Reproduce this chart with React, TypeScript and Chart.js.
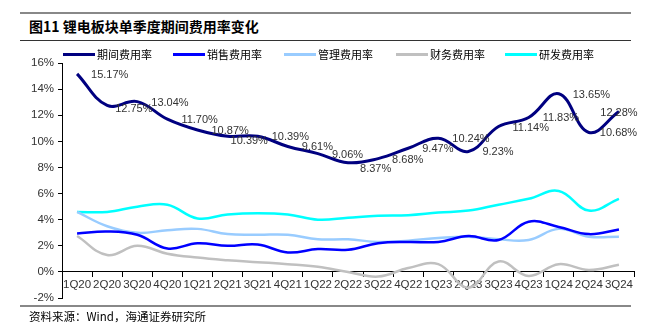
import React, { useEffect, useRef } from "react";
import { Chart, registerables } from "chart.js";

Chart.register(...registerables);

const categories = ["1Q20","2Q20","3Q20","4Q20","1Q21","2Q21","3Q21","4Q21","1Q22","2Q22","3Q22","4Q22","1Q23","2Q23","3Q23","4Q23","1Q24","2Q24","3Q24"];
const totalRate = [15.17,12.75,13.04,11.70,10.87,10.39,10.39,9.61,9.06,8.37,8.68,9.47,10.24,9.23,11.14,11.83,13.65,10.68,12.28];
const salesRate = [2.95,3.1,2.85,1.8,2.2,2.0,2.1,1.5,1.75,1.7,2.2,2.3,2.3,2.75,2.45,3.85,3.45,2.9,3.25];
const adminRate = [4.6,3.5,3.0,3.2,3.3,2.9,2.85,2.85,2.5,2.5,2.3,2.4,2.6,2.7,2.5,2.45,3.3,2.7,2.7];
const financeRate = [2.75,1.3,2.0,1.4,1.1,0.9,0.75,0.6,0.4,0.0,-0.35,0.3,0.6,-1.2,0.8,-0.3,0.6,0.15,0.55];
const rdRate = [4.6,4.6,5.0,5.15,4.1,4.4,4.5,4.4,4.0,4.15,4.3,4.35,4.55,4.7,5.15,5.6,6.2,4.7,5.6];
const seriesNames = ["期间费用率","销售费用率","管理费用率","财务费用率","研发费用率"];
const seriesColors = ["#000080", "#0000FF", "#99CCFF", "#C0C0C0", "#00FFFF"];
const yTicks = [-2,0,2,4,6,8,10,12,14,16];

const FONT = "Arial, 'Liberation Sans', sans-serif";
const CJK = "'Noto Sans CJK SC', sans-serif";

const labelPlugin = {
  id: "totalLabels",
  afterDatasetsDraw(chart: any) {
    const meta = chart.getDatasetMeta(0);
    const ctx = chart.ctx;
    ctx.save();
    ctx.font = `11px ${FONT}`;
    ctx.fillStyle = "#333333";
    ctx.textBaseline = "middle";
    const last = meta.data.length - 1;
    meta.data.forEach((pt: any, i: number) => {
      const text = totalRate[i].toFixed(2) + "%";
      let dx = 14, dy = 1, align = "left";
      if (i === 1) { dx = 8; dy = 4; }
      if (i === 5) { dx = 3; dy = 5; }
      if (i === 9) { dx = 12; dy = 6; }
      if (i === 17) { dx = 11; dy = 0; }
      if (i === last) { dx = 0; dy = 1; align = "center"; }
      ctx.textAlign = align;
      ctx.fillText(text, pt.x + dx, pt.y + dy);
    });
    ctx.restore();
  },
};

const legendX = [63, 173, 284, 396, 505];

export default function App() {
  const ref = useRef<HTMLCanvasElement>(null);
  useEffect(() => {
    document.body.style.margin = "0";
    const values = [totalRate, salesRate, adminRate, financeRate, rdRate];
    const chart = new Chart(ref.current!, {
      type: "line",
      data: {
        labels: categories,
        datasets: values.map((v, i) => ({
          label: seriesNames[i],
          data: v,
          borderColor: seriesColors[i],
          backgroundColor: seriesColors[i],
          borderWidth: i === 0 ? 3 : 2.5,
          pointRadius: 0,
          tension: 0.4,
          fill: false,
        })),
      },
      options: {
        animation: false,
        responsive: false,
        layout: { padding: { left: 27, right: 20, top: 21, bottom: 0 } },
        plugins: {
          legend: { display: false },
          tooltip: { enabled: false },
        },
        scales: {
          x: {
            type: "category",
            position: { y: 0 },
            offset: true,
            grid: { offset: true, drawOnChartArea: false, drawTicks: true, tickLength: 5, color: "#000" },
            border: { display: true, color: "#000" },
            ticks: { maxRotation: 0, autoSkip: false, color: "#333", font: { family: FONT, size: 11.5 }, padding: 1 },
          },
          y: {
            min: -2,
            max: 16,
            afterBuildTicks: (s: any) => { s.ticks = yTicks.map((v) => ({ value: v })); },
            grid: { drawOnChartArea: false, drawTicks: true, tickLength: 4, color: "#000" },
            border: { display: true, color: "#000" },
            ticks: { color: "#333", font: { family: FONT, size: 11.5 }, padding: 4, callback: (v: any) => v + "%" },
          },
        },
      },
      plugins: [labelPlugin],
    });
    return () => chart.destroy();
  }, []);

  return (
    <div style={{ position: "relative", width: 654, height: 327, background: "#fff", overflow: "hidden" }}>
      <div style={{ position: "absolute", left: 20, top: 12, width: 611, height: 2, background: "#888" }} />
      <div style={{ position: "absolute", left: 29, top: 17, fontFamily: CJK, fontWeight: 700, fontSize: 14, lineHeight: "18px", color: "#000" }}>
        图11 锂电板块单季度期间费用率变化
      </div>
      <div style={{ position: "absolute", left: 20, top: 40, width: 611, height: 1, background: "#333" }} />
      <canvas ref={ref} width={654} height={267} style={{ position: "absolute", left: 0, top: 42, width: 654, height: 267 }} />
      {seriesNames.map((n, i) => (
        <div key={n} style={{ position: "absolute", left: legendX[i], top: 46, height: 16, display: "flex", alignItems: "center" }}>
          <div style={{ width: 32, height: 3, background: seriesColors[i], marginRight: 2 }} />
          <span style={{ fontFamily: CJK, fontSize: 11, lineHeight: "16px", color: "#000" }}>{n}</span>
        </div>
      ))}
      <div style={{ position: "absolute", left: 20, top: 305, width: 611, height: 2, background: "#888" }} />
      <div style={{ position: "absolute", left: 29, top: 308, fontFamily: CJK, fontSize: 11.5, lineHeight: "16px", color: "#000" }}>
        资料来源：Wind，海通证券研究所
      </div>
    </div>
  );
}
